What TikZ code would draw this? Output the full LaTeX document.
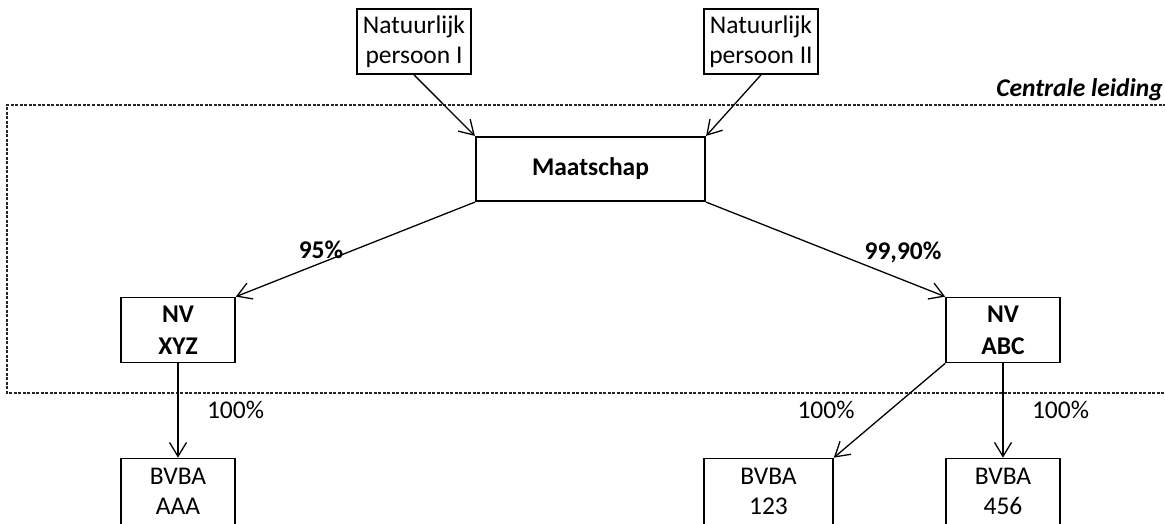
\documentclass[tikz,border=0pt]{standalone}
\usepackage{fontspec}
\setmainfont{Carlito}
\usetikzlibrary{arrows.meta}
\tikzset{
  box/.style={draw, line width=1.7pt, minimum width=114pt, minimum height=65pt, inner sep=0pt, align=center, font=\fontsize{25.5}{30}\selectfont},
  boldbox/.style={box, font=\fontsize{25.5}{32}\selectfont\bfseries},
  lbl/.style={inner sep=0pt, anchor=base, font=\fontsize{25.5}{30}\selectfont},
  conn/.style={line width=1.3pt, -{Straight Barb[length=14pt,width=17pt]}},
  frame/.style={line width=1.4pt, black!85, dash pattern=on 3pt off 1.5pt}
}
\begin{document}
\begin{tikzpicture}[x=1pt,y=-1pt]
\useasboundingbox (0,0) rectangle (1165,523);
\clip (0,0) rectangle (1165,523);
% frame
\draw[frame] (1175,105) -| (7,393) -- (1175,393);
\node[lbl, anchor=base east, font=\fontsize{25.5}{30}\selectfont\bfseries\itshape] (cl) at (1163,96) {Centrale leiding};
% boxes
\node[box] (np1) at (414,41.5) {Natuurlijk\\persoon I};
\node[box] (np2) at (761,41.5) {Natuurlijk\\persoon II};
\node[boldbox, line width=2.2pt, minimum width=229pt, minimum height=64pt] (maat) at (590.5,169) {Maatschap};
\node[boldbox] (nvx) at (178,330) {NV\\XYZ};
\node[boldbox] (nva) at (1003,330) {NV\\ABC};
\node[box, minimum height=66pt] (bva) at (178,491.5) {BVBA\\AAA};
\node[box, minimum width=129pt, minimum height=66pt] (b123) at (768.5,491.5) {BVBA\\123};
\node[box, minimum height=66pt] (b456) at (1003,491.5) {BVBA\\456};
% connectors
\draw[conn] (np1.south) -- (maat.north west);
\draw[conn] (np2.south) -- (maat.north east);
\draw[conn] (maat.south west) -- (nvx.north east);
\draw[conn] (maat.south east) -- (nva.north west);
\draw[conn] (nvx.south) -- (bva.north);
\draw[conn] (nva.south west) -- (b123.north east);
\draw[conn] (nva.south) -- (b456.north);
% labels
\node[lbl, font=\fontsize{25.5}{30}\selectfont\bfseries] (l95) at (321,258) {95\%};
\node[lbl, font=\fontsize{25.5}{30}\selectfont\bfseries] (l999) at (903,259) {99,90\%};
\node[lbl] (l1) at (235.5,418) {100\%};
\node[lbl] (l2) at (826,418) {100\%};
\node[lbl] (l3) at (1060.5,418) {100\%};
\end{tikzpicture}
\end{document}
